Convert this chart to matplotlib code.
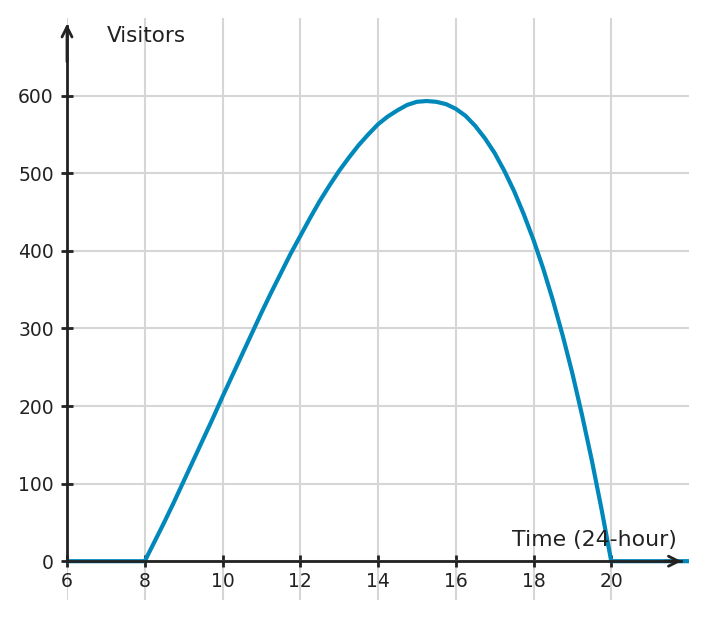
import matplotlib
matplotlib.use("Agg")
import matplotlib.pyplot as plt

# hours of the day and visitor counts
hours = [6, 7, 8, 8.25, 8.5, 8.75, 9, 9.25, 9.5, 9.75, 10, 10.25, 10.5, 10.75,
         11, 11.25, 11.5, 11.75, 12, 12.25, 12.5, 12.75, 13, 13.25, 13.5,
         13.75, 14, 14.25, 14.5, 14.75, 15, 15.25, 15.5, 15.75, 16, 16.25,
         16.5, 16.75, 17, 17.25, 17.5, 17.75, 18, 18.25, 18.5, 18.75, 19,
         19.25, 19.5, 19.75, 20, 21, 22]
visitors = [0, 0, 0, 25, 50, 76, 103, 130, 157, 184, 212, 239, 266, 293,
            320, 346, 371, 396, 419, 442, 464, 484, 503, 520, 536,
            550, 563, 573, 581, 588, 592, 593, 592, 589, 583, 574,
            561, 545, 526, 503, 477, 447, 414, 377, 336, 291, 242,
            188, 130, 67, 0, 0, 0]

xticks = [6, 8, 10, 12, 14, 16, 18, 20]
yticks = [0, 100, 200, 300, 400, 500, 600]

ink = "#222222"
blue = "#0088bb"

fig = plt.figure(figsize=(7.07, 6.19), dpi=100)
ax = fig.add_axes([67 / 707, 19 / 619, 622 / 707, 582 / 619])
ax.set_xlim(6, 22)
ax.set_ylim(-50, 700)

ax.plot(hours, visitors, color=blue, lw=3, zorder=3,
        solid_joinstyle="round")

ax.set_xticks(xticks)
ax.set_yticks(yticks)
ax.grid(True, color="#d6d6d6", lw=1.5, zorder=0)
ax.set_axisbelow(True)

for side in ["top", "right"]:
    ax.spines[side].set_visible(False)
ax.spines["bottom"].set_position(("data", 0))
ax.spines["bottom"].set_bounds(6, 21.8)
ax.spines["left"].set_bounds(0, 690)
for side in ["bottom", "left"]:
    ax.spines[side].set_color(ink)
    ax.spines[side].set_linewidth(2)
    ax.spines[side].set_zorder(4)

ax.tick_params(direction="inout", length=9, width=2, color=ink,
               labelsize=13.5, labelcolor=ink)
ax.tick_params(axis="x", pad=3)
ax.tick_params(axis="y", pad=5)

# arrow heads at the end of both axes
ax.annotate("", xy=(21.88, 0), xytext=(21.3, 0),
            arrowprops=dict(arrowstyle="->", lw=2, color=ink,
                            mutation_scale=18), zorder=5)
ax.annotate("", xy=(6, 696), xytext=(6, 640),
            arrowprops=dict(arrowstyle="->", lw=2, color=ink,
                            mutation_scale=18), zorder=5)

ax.text(7.03, 677, "Visitors", fontsize=15.5, color=ink,
        ha="left", va="center")
ax.text(21.7, 27, "Time (24-hour)", fontsize=15.8, color=ink,
        ha="right", va="center")

fig.savefig("out.png", dpi=100)
